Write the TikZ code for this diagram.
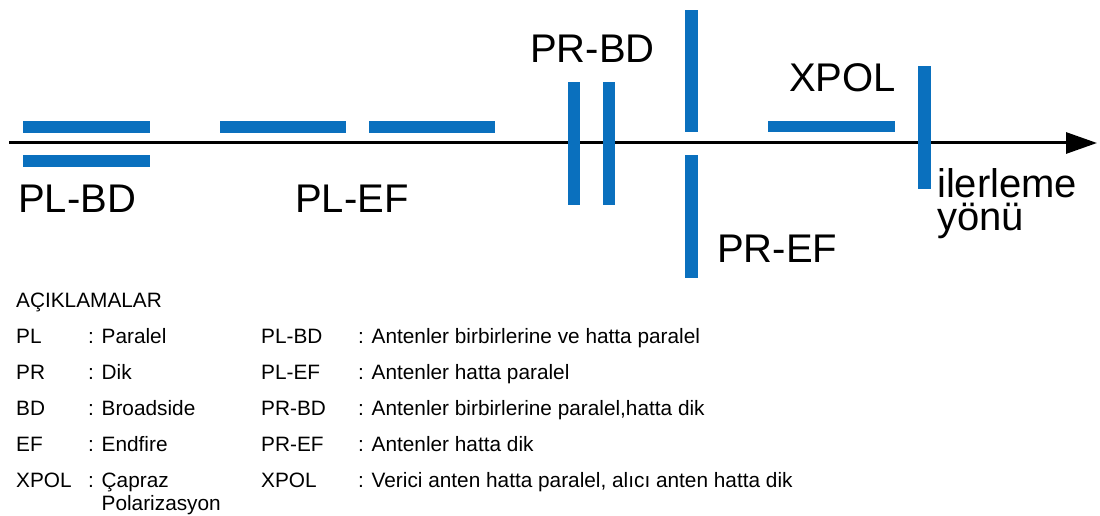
\documentclass[tikz,border=0pt]{standalone}
\usepackage{fontspec}
\setmainfont{Liberation Sans}
\usetikzlibrary{arrows.meta}
\definecolor{antblue}{RGB}{10,112,190}

\tikzset{
  antenna/.style={fill=antblue},
  axisline/.style={line width=3pt, black, -{Triangle[length=31pt,width=21pt]}},
  biglabel/.style={inner sep=0pt, anchor=base west, font=\fontsize{40}{32}\selectfont},
  legend/.style={inner sep=0pt, anchor=base west, font=\fontsize{20.8}{23}\selectfont},
}

\begin{document}
\begin{tikzpicture}[x=1pt,y=-1pt]
\useasboundingbox (0,0) rectangle (1100,516);

% direction of travel
\coordinate (axstart) at (9,143);
\coordinate (axend) at (1097,143);
\draw[axisline] (axstart) -- (axend);

% PL-BD: two antennas side by side, parallel to the line
\path[antenna] (23,121) rectangle (150,133);
\path[antenna] (23,155) rectangle (150,167);
% PL-EF: two antennas in a row along the line
\path[antenna] (220,121) rectangle (346,133);
\path[antenna] (369,121) rectangle (495,133);
% PR-BD: two antennas across the line
\path[antenna] (568,82) rectangle (580,205);
\path[antenna] (603,82) rectangle (615,205);
% PR-EF: two antennas across the line, one after the other
\path[antenna] (685,10) rectangle (698,132);
\path[antenna] (685,155) rectangle (698,278);
% XPOL: transmitter parallel, receiver perpendicular
\path[antenna] (768,121) rectangle (895,132);
\path[antenna] (918,66) rectangle (931,189);

% configuration labels
\node[biglabel] (lplbd) at (18,212) {PL-BD};
\node[biglabel] (lplef) at (295,212) {PL-EF};
\node[biglabel] (lprbd) at (530,63) {PR-BD};
\node[biglabel] (lxpol) at (789,92) {XPOL};
\node[biglabel] (lpref) at (717,262) {PR-EF};
\node[biglabel] (ldir1) at (937,197) {ilerleme};
\node[biglabel] (ldir2) at (937,230) {yönü};

% legend
\node[legend] (lhead) at (16,307) {AÇIKLAMALAR};

\node[legend] (a1) at (16,343) {PL};
\node[legend] (b1) at (88,343) {: Paralel};
\node[legend] (c1) at (261,343) {PL-BD};
\node[legend] (d1) at (358,343) {: Antenler birbirlerine ve hatta paralel};

\node[legend] (a2) at (16,379) {PR};
\node[legend] (b2) at (88,379) {: Dik};
\node[legend] (c2) at (261,379) {PL-EF};
\node[legend] (d2) at (358,379) {: Antenler hatta paralel};

\node[legend] (a3) at (16,415) {BD};
\node[legend] (b3) at (88,415) {: Broadside};
\node[legend] (c3) at (261,415) {PR-BD};
\node[legend] (d3) at (358,415) {: Antenler birbirlerine paralel,hatta dik};

\node[legend] (a4) at (16,451) {EF};
\node[legend] (b4) at (88,451) {: Endfire};
\node[legend] (c4) at (261,451) {PR-EF};
\node[legend] (d4) at (358,451) {: Antenler hatta dik};

\node[legend] (a5) at (16,487) {XPOL};
% two-line entry: the base anchor sits on the last line
\node[legend, align=left] (b5) at (88,510) {: Çapraz\\\phantom{: }Polarizasyon};
\node[legend] (c5) at (261,487) {XPOL};
\node[legend] (d5) at (358,487) {: Verici anten hatta paralel, alıcı anten hatta dik};
\end{tikzpicture}
\end{document}
